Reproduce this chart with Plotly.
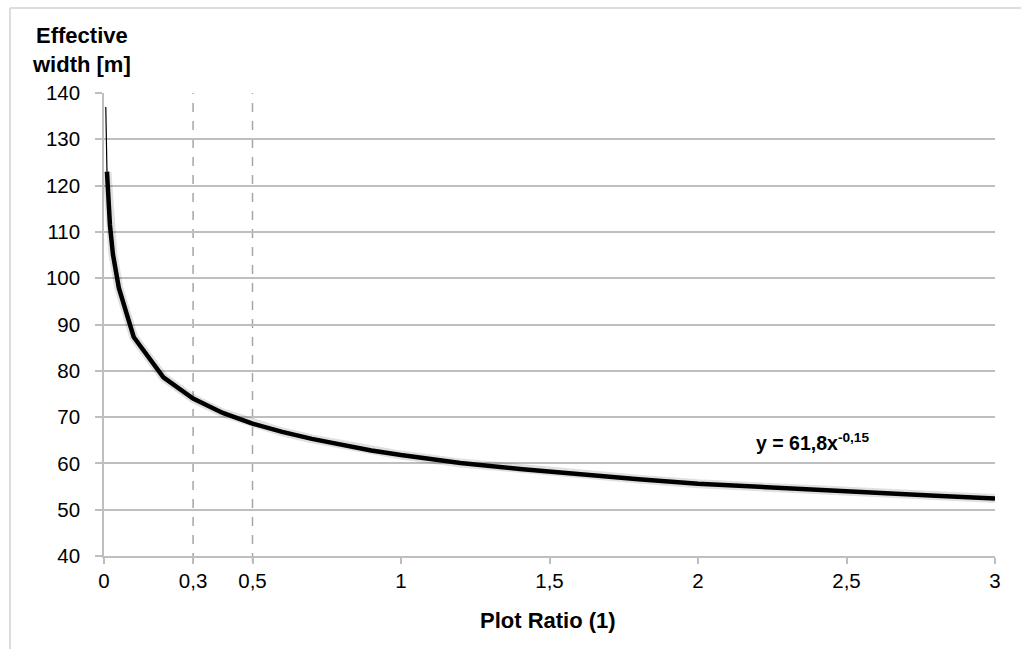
import plotly.graph_objects as go

# data
x_vals = [0.01, 0.02, 0.03, 0.05, 0.1, 0.2, 0.3, 0.4, 0.5, 0.6, 0.7, 0.8, 0.9,
          1.0, 1.2, 1.4, 1.6, 1.8, 2.0, 2.2, 2.4, 2.6, 2.8, 3.0]
y_vals = [123.0, 111.5, 105.2, 97.9, 87.3, 78.6, 74.0, 70.9, 68.6, 66.8, 65.3, 64.0, 62.8,
          61.8, 60.1, 58.8, 57.6, 56.6, 55.6, 54.9, 54.2, 53.5, 53.0, 52.4]
thin_x = [0.006, 0.01]
thin_y = [137.0, 123.0]
ref_lines = [0.3, 0.5]
x_ticks = [0, 0.3, 0.5, 1, 1.5, 2, 2.5, 3]
x_tick_text = ["0", "0,3", "0,5", "1", "1,5", "2", "2,5", "3"]
y_ticks = [40, 50, 60, 70, 80, 90, 100, 110, 120, 130, 140]

W, H = 1021, 649
L, R, T, B = 104, 26, 93, 93
PW, PH = W - L - R, H - T - B

def px(xp):
    return (xp - L) / PW

def py(yp):
    return (H - B - yp) / PH

FONT = "Arial, Liberation Sans, sans-serif"
GRID = "#BEBEBE"

fig = go.Figure()
# soft shadow under the curve
fig.add_trace(go.Scatter(x=x_vals, y=y_vals, mode="lines",
                         line=dict(color="rgba(0,0,0,0.12)", width=9, shape="linear"),
                         hoverinfo="skip", showlegend=False))
fig.add_trace(go.Scatter(x=thin_x, y=thin_y, mode="lines",
                         line=dict(color="black", width=1.2), showlegend=False))
fig.add_trace(go.Scatter(x=x_vals, y=y_vals, mode="lines",
                         line=dict(color="black", width=4.5), showlegend=False))

shapes = []
for xv in ref_lines:
    shapes.append(dict(type="line", xref="x", yref="paper", x0=xv, x1=xv, y0=py(562), y1=1,
                       line=dict(color="#A6A6A6", width=1.5, dash="dash"), layer="below"))
# outer frame (left and top)
shapes.append(dict(type="line", xref="paper", yref="paper", x0=px(10), x1=px(10),
                   y0=py(8), y1=py(700), line=dict(color="#DCDCDC", width=2)))
shapes.append(dict(type="line", xref="paper", yref="paper", x0=px(10), x1=px(1100),
                   y0=py(8), y1=py(8), line=dict(color="#DCDCDC", width=2)))

fig.update_layout(
    width=W, height=H,
    margin=dict(l=L, r=R, t=T, b=B),
    paper_bgcolor="white", plot_bgcolor="white",
    font=dict(family=FONT, size=20, color="black"),
    shapes=shapes,
    annotations=[
        dict(text="<b>Effective<br>width [m]</b>", xref="paper", yref="paper",
             x=px(81), y=py(50), xanchor="center", yanchor="middle", showarrow=False,
             font=dict(size=22, family=FONT), align="center"),
        dict(text="<b>Plot Ratio (1)</b>", xref="paper", yref="paper",
             x=px(548), y=py(620), xanchor="center", yanchor="middle", showarrow=False,
             font=dict(size=22, family=FONT)),
        dict(text="<b>y = 61,8x<sup>-0,15</sup></b>", xref="x", yref="y",
             x=2.385, y=64.6, xanchor="center", yanchor="middle", showarrow=False,
             font=dict(size=19.5, family=FONT)),
    ],
)
fig.update_xaxes(range=[0, 3], tickvals=x_ticks, ticktext=x_tick_text,
                 showgrid=False, zeroline=False, showline=True, linecolor=GRID, linewidth=1.5,
                 ticks="outside", ticklen=6, tickcolor=GRID, tickwidth=1.5,
                 tickfont=dict(size=20.5, family=FONT))
fig.update_yaxes(range=[40, 140], tickvals=y_ticks,
                 showgrid=True, gridcolor=GRID, gridwidth=1.5, zeroline=False,
                 showline=True, linecolor=GRID, linewidth=1.5,
                 ticks="outside", ticklen=7, tickcolor=GRID, tickwidth=1.5,
                 ticklabelstandoff=11, tickfont=dict(size=20.5, family=FONT))

fig.write_html("out.html")
